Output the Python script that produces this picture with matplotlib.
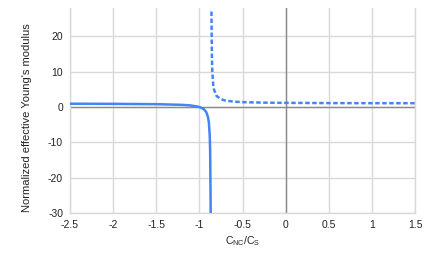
import matplotlib
matplotlib.use("Agg")
import matplotlib.pyplot as plt

# Solid branch (left of the pole)
solid_x = [-2.5, -2.0, -1.5, -1.2, -1.1, -1.0, -0.95, -0.92, -0.9, -0.89, -0.88, -0.875, -0.87, -0.8685]
solid_y = [0.92, 0.88, 0.79, 0.60, 0.43, 0.0, -0.59, -1.45, -2.86, -4.4, -8.0, -12.5, -26.0, -31.0]

# Dashed branch (right of the pole)
dash_x = [-0.86, -0.855, -0.85, -0.84, -0.83, -0.8, -0.75, -0.7, -0.6, -0.5, -0.25, 0.0, 0.5, 1.0, 1.5]
dash_y = [27.0, 14.5, 10.0, 6.4, 4.9, 3.1, 2.2, 1.82, 1.51, 1.37, 1.22, 1.16, 1.1, 1.07, 1.06]

xticks = [-2.5, -2, -1.5, -1, -0.5, 0, 0.5, 1, 1.5]
xtick_labels = ["-2.5", "-2", "-1.5", "-1", "-0.5", "0", "0.5", "1", "1.5"]
yticks = [-30, -20, -10, 0, 10, 20]
ytick_labels = ["-30", "-20", "-10", "0", "10", "20"]

plt.rcParams['font.family'] = ['Liberation Sans', 'DejaVu Sans']

fig = plt.figure(figsize=(4.36, 2.54), dpi=100)
ax = fig.add_axes([70/436, 1-213/254, 345/436, 205/254])

blue = "#4285F4"
grid_c = "#d9d9d9"
zero_c = "#8a8a8a"

ax.set_xlim(-2.5, 1.5)
ax.set_ylim(-30, 28)
ax.set_xticks(xticks)
ax.set_xticklabels(xtick_labels)
ax.set_yticks(yticks)
ax.set_yticklabels(ytick_labels)
ax.grid(True, color=grid_c, linewidth=1.0)
ax.set_axisbelow(True)
ax.spines["top"].set_visible(False)
for s in ["left", "right", "bottom"]:
    ax.spines[s].set_color(grid_c)
    ax.spines[s].set_linewidth(1.0)
ax.tick_params(length=0, labelsize=7.5, colors="#222222", pad=5)

ax.axhline(0, color=zero_c, linewidth=1.0, zorder=1)
ax.axvline(0, color=zero_c, linewidth=1.0, zorder=1)

ax.plot(solid_x, solid_y, color=blue, linewidth=1.8, solid_capstyle="butt", zorder=3)
ax.plot(dash_x, dash_y, color=blue, linewidth=1.8, linestyle=(0, (1.8, 1.0)), zorder=3)

ax.set_ylabel("Normalized effective Young's modulus", fontsize=8, color="#222222",
              va="center")
ax.yaxis.set_label_coords(-0.125, 0.463)
ax.set_xlabel("C$_{\\mathregular{NC}}$/C$_{\\mathregular{S}}$", fontsize=7.5, color="#222222", labelpad=3)

fig.savefig("out.png", dpi=100)
